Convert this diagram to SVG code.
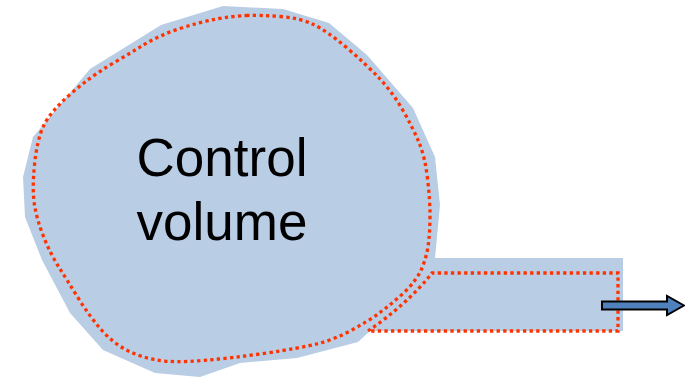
<svg xmlns="http://www.w3.org/2000/svg" width="685" height="377" viewBox="0 0 685 377">
<style>
.fill{fill:#B9CDE5;stroke:none}
.dot{fill:none;stroke:#FF3300;stroke-width:3.3;stroke-dasharray:3.3 3.3}
.lbl{font-family:"Liberation Sans",Arial,sans-serif;font-size:53px;fill:#000;text-anchor:middle}
.arrow{fill:#4F81BD;stroke:#000;stroke-width:2;stroke-linejoin:miter}
</style>
<rect width="685" height="377" fill="#fff"/>
<g id="control-volume">
<polygon class="fill" points="223,6 283,9 329,23 367,55 413,108 435,157 440,205 435,258 623,258 623,331 370,331 358,342 297,358 240,363 200,377 155,373 103,350 70,313 42,260 25,217 23,177 33,137 90,69 161,25"/>
<path class="dot" d="M 246.5 15.5 Q 260 15 280 16.5 Q 300 18 313.5 24.5 Q 327 31 347 48 Q 367 65 380 79 Q 393 93 403 110.5 Q 413 128 419 142.5 Q 425 157 427.5 178.5 Q 430 200 430 215 Q 430 230 428.5 243 Q 427 256 422 268 Q 417 280 405 291.5 Q 393 303 380 312.5 Q 367 322 350 331 Q 333 340 316.5 344 Q 300 348 266.5 353 Q 233 358 203 360.5 Q 173 363 156.5 360 Q 140 357 126.5 350 Q 113 343 101.5 330 Q 90 317 78.5 298.5 Q 67 280 58.5 266.5 Q 50 253 43.5 236.5 Q 37 220 34.5 205 Q 32 190 34.5 165 Q 37 140 43.5 126 Q 50 112 70 94.5 Q 90 77 108.5 66 Q 127 55 143.5 45 Q 160 35 180 28.5 Q 200 22 216.5 19 Q 233 16 246.5 15.5 Z"/>
<path class="dot" d="M 368 331 C 390 316 415 295 432 273 L 618 273 L 618 331 L 368 331"/>
<text class="lbl" x="222" y="176">Control</text>
<text class="lbl" x="222" y="240">volume</text>
</g>
<g id="connectors">
<polygon class="arrow" points="602,301.5 667,301.5 667,296 684,305.5 667,315 667,309.5 602,309.5"/>
</g>
</svg>
